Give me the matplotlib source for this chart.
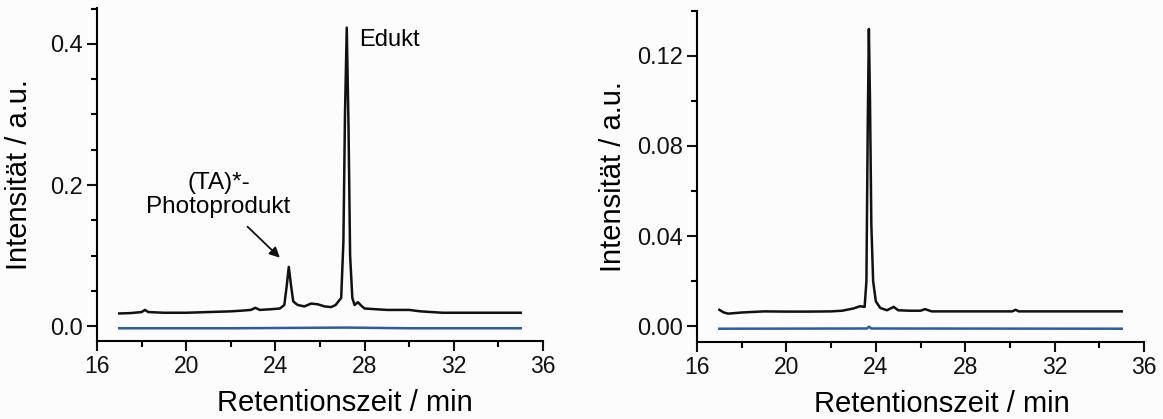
import matplotlib
matplotlib.use("Agg")
import matplotlib.pyplot as plt
from matplotlib.ticker import MultipleLocator

#
# -1- Data
#

# left panel : irradiated sample (black) and blank (blue)
xL = [17.0, 17.5, 18.0, 18.15, 18.3, 19.0, 20.0, 21.0, 21.5, 22.0, 22.5, 22.9,
      23.1, 23.3, 23.8, 24.2, 24.4, 24.5, 24.6, 24.7, 24.8, 25.0, 25.3, 25.6,
      25.9, 26.2, 26.5, 26.7, 26.95, 27.05, 27.12, 27.2, 27.28, 27.35, 27.45,
      27.55, 27.7, 27.85, 28.0, 29.0, 30.0, 30.5, 31.5, 35.0]
yL = [0.018, 0.0185, 0.020, 0.023, 0.020, 0.019, 0.019, 0.020, 0.0205, 0.021,
      0.022, 0.023, 0.026, 0.023, 0.024, 0.025, 0.030, 0.055, 0.084, 0.058,
      0.035, 0.030, 0.028, 0.032, 0.031, 0.028, 0.027, 0.030, 0.040, 0.12,
      0.30, 0.423, 0.28, 0.10, 0.040, 0.030, 0.034, 0.029, 0.025, 0.023,
      0.023, 0.021, 0.019, 0.019]
xLb = [17.0, 22.0, 27.2, 30.0, 35.0]
yLb = [-0.003, -0.003, -0.002, -0.003, -0.003]

# right panel
xR = [17.0, 17.2, 17.4, 18.0, 19.0, 20.0, 21.0, 22.0, 22.5, 23.0, 23.3, 23.5,
      23.58, 23.64, 23.69, 23.74, 23.8, 23.88, 24.0, 24.2, 24.5, 24.8, 25.0,
      25.5, 26.0, 26.2, 26.5, 30.1, 30.25, 30.4, 35.0]
yR = [0.0072, 0.006, 0.0055, 0.006, 0.0065, 0.0064, 0.0064, 0.0065, 0.0068,
      0.0078, 0.0088, 0.0085, 0.02, 0.09, 0.132, 0.10, 0.045, 0.020, 0.011,
      0.008, 0.0070, 0.0085, 0.007, 0.0068, 0.0068, 0.0075, 0.0065, 0.0065,
      0.0072, 0.0065, 0.0065]
xRb = [17.0, 23.6, 23.7, 23.8, 35.0]
yRb = [-0.0012, -0.0011, -0.0003, -0.0011, -0.0012]

xticks = [16, 20, 24, 28, 32, 36]
yticksL = [0.0, 0.2, 0.4]
yticksR = [0.00, 0.04, 0.08, 0.12]

blue = '#2a5caa'
plt.rcParams['font.family'] = ['Liberation Sans', 'DejaVu Sans']

#
# -2- Figure
#

fig = plt.figure(figsize=(11.63, 4.19), dpi=100)
fig.patch.set_facecolor('#fcfcfc')

def style(ax, yticks, ylim, minor, fmt, ylab_x, xlab_x):
  ax.set_facecolor('#fcfcfc')
  ax.set_xlim(16, 36); ax.set_ylim(*ylim)
  ax.set_xticks(xticks)
  ax.xaxis.set_minor_locator(MultipleLocator(2))
  ax.set_yticks(yticks)
  ax.yaxis.set_minor_locator(MultipleLocator(minor))
  ax.set_yticklabels([fmt % v for v in yticks], fontsize=17)
  ax.set_xticklabels([str(v) for v in xticks], fontsize=16.5)
  for s in ['top', 'right']:
    ax.spines[s].set_visible(False)
  for s in ['left', 'bottom']:
    ax.spines[s].set_linewidth(1.5)
  ax.tick_params(which='major', direction='out', length=7, width=1.5, pad=3, colors='#111111')
  ax.tick_params(which='minor', direction='out', length=4, width=1.5)
  ax.set_xlabel('Retentionszeit / min', fontsize=21)
  ax.set_ylabel('Intensität / a.u.', fontsize=21)
  ax.xaxis.set_label_coords(xlab_x, -0.145)
  ax.yaxis.set_label_coords(ylab_x, 0.5)

axL = fig.add_axes([0.0834, 0.1862, 0.3835, 0.795])
axL.plot(xLb, yLb, color=blue, lw=1.8)
axL.plot(xL, yL, color='#111111', lw=1.8)
style(axL, yticksL, (-0.021, 0.451), 0.05, '%.1f', -0.143, 0.556)
axL.text(27.75, 0.406, 'Edukt', fontsize=17, ha='left', va='center')
axL.text(21.45, 0.186, '(TA)*-\nPhotoprodukt', fontsize=17.5, ha='center',
         va='center', linespacing=1.1)
axL.annotate('', xy=(24.2, 0.097), xytext=(22.75, 0.141),
             arrowprops=dict(arrowstyle='-|>', color='#111111', lw=1.3,
                             mutation_scale=15, shrinkA=0, shrinkB=0))

axR = fig.add_axes([0.5993, 0.1838, 0.3844, 0.79])
axR.plot(xRb, yRb, color=blue, lw=1.8)
axR.plot(xR, yR, color='#111111', lw=1.8)
style(axR, yticksR, (-0.0071, 0.14), 0.02, '%.2f', -0.157, 0.548)

plt.savefig('out.png', dpi=100, facecolor=fig.get_facecolor())
